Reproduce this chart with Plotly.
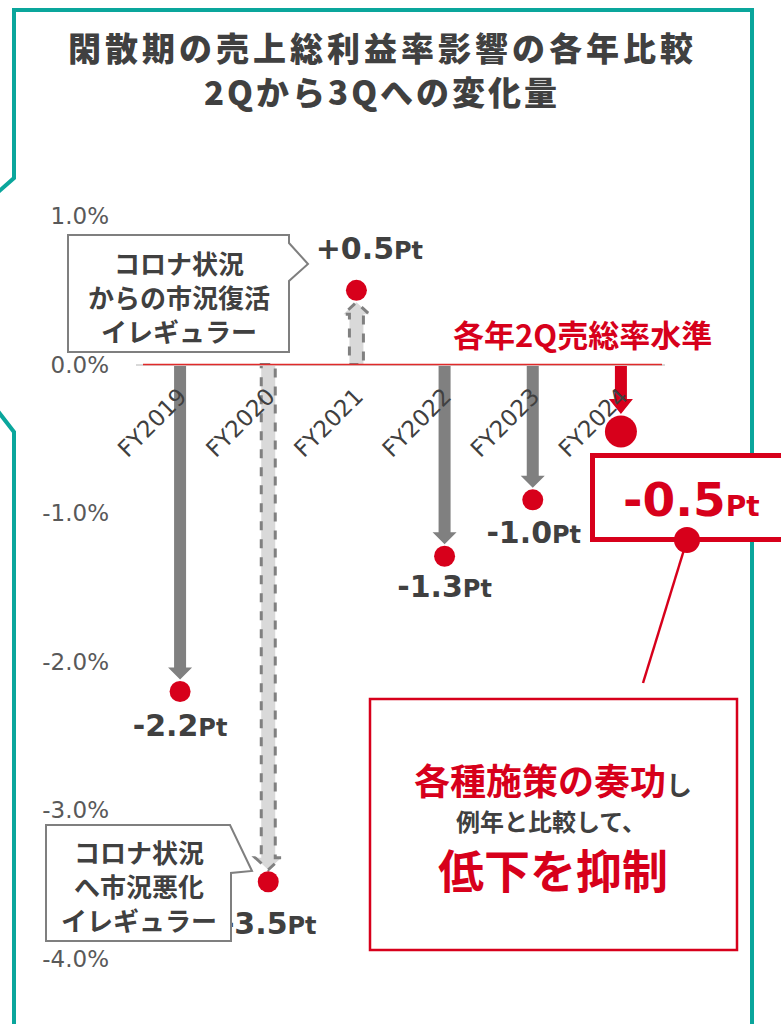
import plotly.graph_objects as go

# ---------------- data ----------------
categories = ["FY2019", "FY2020", "FY2021", "FY2022", "FY2023", "FY2024"]
change_pt = [-2.20, -3.48, 0.50, -1.29, -0.91, -0.45]      # dot positions
label_num = ["-2.2", "-3.5", "+0.5", "-1.3", "-1.0", "-0.5"]
label_unit = "Pt"
y_tick_vals = [1.0, 0.0, -1.0, -2.0, -3.0, -4.0]
y_tick_text = ["1.0%", "0.0%", "-1.0%", "-2.0%", "-3.0%", "-4.0%"]

title_lines = ["閑散期の売上総利益率影響の各年比較", "2Qから3Qへの変化量"]
baseline_text = "各年2Q売総率水準"
note_up_lines = ["コロナ状況", "からの市況復活", "イレギュラー"]
note_down_lines = ["コロナ状況", "へ市況悪化", "イレギュラー"]
summary_red_1 = "各種施策の奏功"
summary_gray_1 = "し"
summary_line_2 = "例年と比較して、"
summary_line_3 = "低下を抑制"

# ---------------- styles ----------------
W, H = 781, 1024
ML, MR, MT, MB = 136, 116, 216, 65
YMIN, YMAX = -4.0, 1.0
PW, PH = W - ML - MR, H - MT - MB
PPU = PH / (YMAX - YMIN)                 # pixels per 1.0 pt on y
PPC = PW / len(categories)               # pixels per category on x

RED = "#d7001b"
DARK = "#404040"
GRAY = "#808080"
LIGHT = "#d9d9d9"
TEAL = "#0aa69c"
JP = "Noto Sans CJK JP"
LAT = "DejaVu Sans"

arrow_style = ["solid", "dashed", "dashed", "solid", "solid", "red"]
marker_size = [21, 21, 21, 21, 21, 32]
label_shift = [(0, 37), (1, 45), (13, -39), (0, 33), (1, 36), None]  # (dx, dy) px from dot


def px2x(px):
    return (px - ML) / PW


def py2y(py):
    return 1 - (py - MT) / PH


fig = go.Figure()

fig.add_trace(go.Scatter(
    x=list(range(len(categories))), y=change_pt, mode="markers",
    marker=dict(size=marker_size, color=RED, opacity=1, line=dict(width=0)),
    hoverinfo="skip", showlegend=False, cliponaxis=False,
))

# value labels (as a text trace so the callout box can sit over it)
lab_x, lab_y, lab_t = [], [], []
for i, (v, num, sh) in enumerate(zip(change_pt, label_num, label_shift)):
    if sh is None:
        continue
    lab_x.append(i + sh[0] / PPC)
    lab_y.append(v - sh[1] / PPU)
    lab_t.append(f"{num}<span style='font-size:24px'>{label_unit}</span>")
fig.add_trace(go.Scatter(
    x=lab_x, y=lab_y, text=lab_t, mode="text", textposition="middle center",
    textfont=dict(family=LAT, size=30, color=DARK, weight=700),
    hoverinfo="skip", showlegend=False, cliponaxis=False,
))

shapes = []

# arrows from the 2Q level (0) to each year's value
for i, (v, st, ms) in enumerate(zip(change_pt, arrow_style, marker_size)):
    sgn = -1 if v < 0 else 1
    r = ms / 2
    tip = v - sgn * (r + 1.5) / PPU
    head_len = (15 if st == "red" else 12) / PPU
    base = tip - sgn * head_len
    sw = 7 if st == "dashed" else 6
    hw = 13 if st == "dashed" else 12
    path = (f"M {-sw},0 L {sw},0 L {sw},{base} L {hw},{base} L 0,{tip} "
            f"L {-hw},{base} L {-sw},{base} Z")
    if st == "dashed":
        fill, line = LIGHT, dict(color=GRAY, width=3, dash="dash")
    elif st == "red":
        fill, line = RED, dict(width=0)
    else:
        fill, line = GRAY, dict(width=0)
    shapes.append(dict(type="path", xref="x", yref="y", xsizemode="pixel", xanchor=i,
                       path=path, fillcolor=fill, line=line, layer="below"))

# red 2Q level line
shapes.append(dict(type="line", xref="paper", yref="y", x0=px2x(143), x1=px2x(662),
                   y0=0, y1=0, line=dict(color="#e02a2a", width=1.5), layer="above"))

# teal frame
frame1 = (f"M {px2x(-3)},{py2y(193)} L {px2x(14)},{py2y(178)} L {px2x(14)},{py2y(10)} "
          f"L {px2x(752)},{py2y(10)} L {px2x(752)},{py2y(1030)}")
frame2 = f"M {px2x(-3)},{py2y(410)} L {px2x(14)},{py2y(432)} L {px2x(14)},{py2y(1030)}"
for p in (frame1, frame2):
    shapes.append(dict(type="path", xref="paper", yref="paper", path=p,
                       line=dict(color=TEAL, width=4), layer="above"))


def poly(points):
    return "M " + " L ".join(f"{px2x(a)},{py2y(b)}" for a, b in points) + " Z"


# callout boxes
shapes.append(dict(type="path", xref="paper", yref="paper",
                   path=poly([(68, 235), (289, 235), (289, 243), (308, 264), (289, 281),
                              (289, 352), (68, 352)]),
                   fillcolor="white", line=dict(color="#7f7f7f", width=2), layer="above"))
shapes.append(dict(type="path", xref="paper", yref="paper",
                   path=poly([(46, 825), (230, 825), (252, 871), (231, 873), (231, 941),
                              (46, 941)]),
                   fillcolor="white", line=dict(color="#7f7f7f", width=2), layer="above"))

# red value box for FY2024
shapes.append(dict(type="rect", xref="paper", yref="paper", x0=px2x(592.5), x1=px2x(800),
                   y0=py2y(455.5), y1=py2y(539.5), fillcolor="white",
                   line=dict(color=RED, width=5), layer="above"))
# connector and summary box
shapes.append(dict(type="line", xref="paper", yref="paper", x0=px2x(687), y0=py2y(540),
                   x1=px2x(643), y1=py2y(683), line=dict(color=RED, width=2.5), layer="above"))
shapes.append(dict(type="circle", xref="paper", yref="paper", x0=px2x(674), x1=px2x(700),
                   y0=py2y(527), y1=py2y(553), fillcolor=RED, line=dict(width=0), layer="above"))
shapes.append(dict(type="rect", xref="paper", yref="paper", x0=px2x(370), x1=px2x(737),
                   y0=py2y(699), y1=py2y(950), fillcolor="white",
                   line=dict(color=RED, width=2.5), layer="above"))

annotations = []


def ann(text, px, py, size, color, family=JP, weight=700, **kw):
    d = dict(text=text, xref="paper", yref="paper", x=px2x(px), y=py2y(py),
             xanchor="center", yanchor="middle", showarrow=False,
             font=dict(family=family, size=size, color=color, weight=weight))
    d.update(kw)
    annotations.append(d)


# title
ann(f"<span style='letter-spacing:4px'>{title_lines[0]}</span>", 382, 47, 33, DARK, weight=900)
ann(f"<span style='letter-spacing:3px'>{title_lines[1]}</span>", 382, 91, 33, DARK, weight=900)

# baseline caption
ann(baseline_text, 582, 333, 31, RED)

# callout texts
ann("<br>".join(note_up_lines), 178.5, 297, 26, DARK)
ann("<br>".join(note_down_lines), 138.5, 885, 26, DARK)

# FY2024 value in the red box
ann(f"{label_num[-1]}<span style='font-size:28px'>{label_unit}</span>", 691, 499, 47, RED,
    family=LAT)

# summary box text
ann(f"{summary_red_1}<span style='font-size:26px;color:{DARK}'>{summary_gray_1}</span>",
    553, 779, 36, RED)
ann(summary_line_2, 551, 820, 24, DARK)
ann(summary_line_3, 553, 868, 46, RED)

fig.update_layout(
    width=W, height=H,
    margin=dict(l=ML, r=MR, t=MT, b=MB, pad=0),
    paper_bgcolor="white", plot_bgcolor="white",
    showlegend=False,
    xaxis=dict(range=[-0.5, len(categories) - 0.5], tickvals=list(range(len(categories))),
               ticktext=categories, tickangle=-45, anchor="free",
               position=(0 - YMIN) / (YMAX - YMIN), showline=True, linecolor=LIGHT,
               linewidth=2, showgrid=False, zeroline=False, ticks="",
               ticklabelstandoff=8,
               tickfont=dict(family=LAT, size=23, color=DARK), fixedrange=True),
    yaxis=dict(range=[YMIN, YMAX], tickvals=y_tick_vals, ticktext=y_tick_text,
               showgrid=False, zeroline=False, showline=False, ticks="",
               ticklabelstandoff=26,
               tickfont=dict(family=LAT, size=23, color="#595959"), fixedrange=True),
    shapes=shapes,
    annotations=annotations,
)

fig.write_html("out.html", config={"displayModeBar": False},
               post_script="document.body.style.margin='0';")
